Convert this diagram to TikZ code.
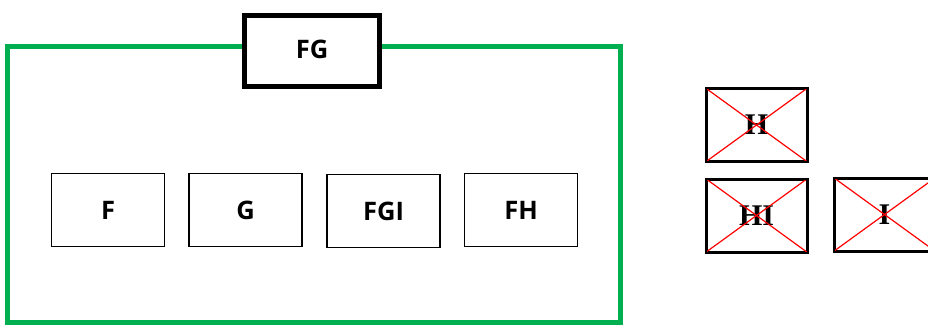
\documentclass[tikz,border=0pt]{standalone}
\usepackage{fontspec}
\newfontfamily\labsans{Open Sans}
\newfontfamily\labserif{Liberation Serif}
\definecolor{offgreen}{RGB}{0,176,80}
\begin{document}
\begin{tikzpicture}[x=1pt,y=-1pt,
  inbox/.style={draw=black,line width=1.5pt,minimum width=113pt,minimum height=73pt,inner sep=0pt,
    font=\labsans\bfseries\fontsize{25.5}{28}\selectfont},
  xbox/.style={draw=black,line width=2pt,minimum width=100pt,minimum height=72pt,inner sep=0pt,
    font=\labserif\bfseries\fontsize{30}{32}\selectfont},
  cross/.style={red,line width=1.2pt}]
\useasboundingbox (0,0) rectangle (928,324);
\draw[offgreen,line width=5pt] (7.5,46) rectangle (620,322);
\node[draw=black,fill=white,line width=5pt,minimum width=135pt,minimum height=71pt,inner sep=0pt,
  font=\labsans\bfseries\fontsize{25.5}{28}\selectfont] (FG) at (312,51) {\raisebox{3pt}{FG}};
\node[inbox] (F) at (108,210) {F};
\node[inbox] (G) at (245.5,210) {G};
\node[inbox] (FGI) at (383.5,211) {FGI};
\node[inbox] (FH) at (521,210) {FH};
\node[xbox] (H) at (756.5,125) {H};
\node[xbox] (HI) at (756.5,215.5) {HI};
\node[xbox] (I) at (884.5,214.5) {I};
\foreach \n in {H,HI,I}{
  \draw[cross] (\n.north west) -- (\n.south east);
  \draw[cross] (\n.south west) -- (\n.north east);
  \draw[black,line width=2pt] (\n.north west) rectangle (\n.south east);
}
\end{tikzpicture}
\end{document}
